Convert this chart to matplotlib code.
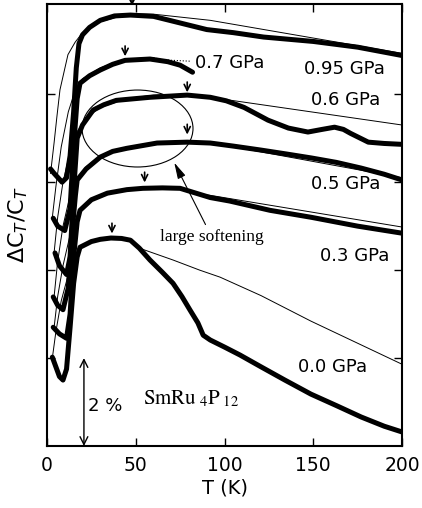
import matplotlib
matplotlib.use('Agg')
import matplotlib.pyplot as plt
from matplotlib.patches import Ellipse

# measured curves (T in K, dC/C in %, offset per pressure)
T_095 = [2, 4, 8.5, 11, 13, 15, 16.5, 18, 20, 24, 30, 38, 47, 60, 75, 90, 105, 122, 150, 175, 200]
y_095 = [6.3, 6.2, 6.0, 6.1, 6.6, 7.6, 8.6, 9.15, 9.35, 9.52, 9.68, 9.78, 9.8, 9.77, 9.62, 9.47, 9.4, 9.3, 9.2, 9.07, 8.88]
T_07 = [3.5, 6, 10, 13, 15, 17, 18.6, 24, 30, 37, 44, 58, 68, 75, 82]
y_07 = [5.18, 5.0, 4.9, 5.4, 6.8, 7.9, 8.25, 8.42, 8.55, 8.68, 8.77, 8.8, 8.74, 8.66, 8.5]
T_06 = [4.5, 7, 11, 13, 15, 17, 20, 26, 32, 39, 58, 79, 92, 101, 111, 118, 124.5, 136, 147, 155, 162, 167, 171, 181, 190, 200]
y_06 = [4.39, 4.1, 3.9, 4.3, 5.8, 7.0, 7.3, 7.64, 7.76, 7.86, 7.93, 7.98, 7.93, 7.85, 7.7, 7.55, 7.41, 7.23, 7.14, 7.2, 7.25, 7.2, 7.11, 6.91, 6.88, 6.86]
T_05 = [3.5, 6, 9, 12, 14, 16, 17, 22, 30, 37, 45, 62, 79, 92, 105, 120.5, 135, 149, 163, 177, 190, 200]
y_05 = [3.39, 3.2, 3.1, 3.6, 4.8, 5.7, 6.05, 6.3, 6.57, 6.7, 6.77, 6.89, 6.91, 6.89, 6.82, 6.73, 6.64, 6.55, 6.45, 6.32, 6.18, 6.05]
T_03 = [3.5, 7, 11, 13, 15, 17, 18.6, 25, 34, 45, 54, 65, 75, 92, 103, 125.6, 149, 175, 200]
y_03 = [2.7, 2.55, 2.45, 3.0, 4.3, 5.1, 5.36, 5.6, 5.75, 5.83, 5.86, 5.87, 5.86, 5.65, 5.57, 5.36, 5.2, 5.0, 4.84]
T_00 = [3, 5, 7, 9, 11, 13, 15, 17, 18.6, 25, 30, 36, 42, 47, 52, 58, 65, 71, 76, 80.6, 85, 88, 92, 100, 108.7, 120.6, 134, 148.7, 163, 177, 190, 200]
y_00 = [2.02, 1.8, 1.58, 1.5, 1.75, 2.7, 3.7, 4.3, 4.52, 4.65, 4.7, 4.73, 4.72, 4.68, 4.5, 4.23, 3.95, 3.7, 3.4, 3.09, 2.8, 2.52, 2.41, 2.25, 2.07, 1.8, 1.5, 1.18, 0.92, 0.66, 0.45, 0.32]

# background fits (thin lines)
fT_095 = [2, 4, 5.6, 7.3, 11.8, 15.8, 20, 30, 47, 60, 92, 200]
fy_095 = [6.2, 6.9, 7.5, 8.1, 8.9, 9.18, 9.4, 9.65, 9.83, 9.82, 9.68, 8.93]
fT_07 = [3, 5, 8, 12, 16, 20, 30, 44, 60]
fy_07 = [5.2, 5.9, 6.8, 7.6, 8.1, 8.35, 8.6, 8.8, 8.83]
fT_07dot = [60, 66, 81]
fy_07dot = [8.83, 8.78, 8.75]
fT_06 = [4, 6, 9, 13, 17, 22, 30, 45, 60, 79, 92, 200]
fy_06 = [4.4, 5.2, 6.0, 6.7, 7.15, 7.45, 7.7, 7.9, 7.98, 8.0, 7.93, 7.3]
fT_05 = [4, 6, 9, 13, 17, 22, 30, 45, 62, 79, 92, 200]
fy_05 = [3.4, 4.2, 5.0, 5.7, 6.1, 6.35, 6.6, 6.8, 6.9, 6.93, 6.9, 6.1]
fT_03 = [4, 6, 9, 13, 17, 22, 30, 45, 55, 75, 82, 92, 200]
fy_03 = [2.7, 3.4, 4.1, 4.8, 5.25, 5.5, 5.7, 5.85, 5.88, 5.84, 5.74, 5.7, 4.98]
fT_00 = [3, 5, 8, 12, 16, 20, 28, 36, 47, 52, 71, 86, 97.5, 120.6, 148.7, 200]
fy_00 = [2.0, 2.6, 3.3, 3.9, 4.35, 4.55, 4.7, 4.75, 4.7, 4.5, 4.23, 4.0, 3.84, 3.42, 2.84, 1.86]

labels = ['0.95 GPa', '0.7 GPa', '0.6 GPa', '0.5 GPa', '0.3 GPa', '0.0 GPa']
label_T = [144.8, 83.4, 148.7, 148.7, 153.8, 141.4]
label_y = [8.57, 8.7, 7.86, 5.95, 4.32, 1.8]
peak_T = [47.9, 44, 79, 79, 55, 36.6]
peak_y = [9.95, 8.8, 7.98, 7.02, 5.93, 4.77]

fig, ax = plt.subplots(figsize=(4.22, 5.08), dpi=100)
fig.subplots_adjust(left=0.1114, right=0.9526, bottom=0.122, top=0.992)

for T, y in [(T_095, y_095), (T_07, y_07), (T_06, y_06), (T_05, y_05), (T_03, y_03), (T_00, y_00)]:
    ax.plot(T, y, color='black', lw=3.6, solid_capstyle='round', solid_joinstyle='round')

for T, y in [(fT_095, fy_095), (fT_07, fy_07), (fT_06, fy_06), (fT_05, fy_05), (fT_03, fy_03), (fT_00, fy_00)]:
    ax.plot(T, y, color='black', lw=0.7)
ax.plot(fT_07dot, fy_07dot, color='black', lw=0.8, ls=':')

# peak arrows
for t, y in zip(peak_T, peak_y):
    ax.annotate('', xy=(t, y), xytext=(t, y + 0.36), annotation_clip=False,
                arrowprops=dict(arrowstyle='->', lw=1.2, color='black', mutation_scale=11))

for lab, t, y in zip(labels, label_T, label_y):
    ax.text(t, y, lab, fontsize=13, ha='left', va='center')

ax.add_patch(Ellipse((51, 7.22), 62.5, 1.75, fill=False, lw=0.8, color='black'))
ax.annotate('', xy=(71, 6.5), xytext=(90, 4.98),
            arrowprops=dict(arrowstyle='-|>,head_width=0.18,head_length=0.7', lw=0.8, color='black',
                            mutation_scale=14))
ax.text(63.5, 4.75, 'large softening', fontsize=12.5, family='Liberation Serif', ha='left', va='center')

# scale bar
ax.annotate('', xy=(20.8, 0), xytext=(20.8, 2.0),
            arrowprops=dict(arrowstyle='<->', lw=1.0, color='black', mutation_scale=14,
                            shrinkA=0, shrinkB=0))
ax.text(23.1, 0.91, '2 %', fontsize=13, ha='left', va='center')
ax.text(54, 0.95, r'$\mathrm{SmRu}_{\ 4}\mathrm{P}_{\ 12}$', fontsize=15, math_fontfamily='stix',
        ha='left', va='baseline')

ax.set_xlim(0, 200)
ax.set_ylim(0, 10.05)
ax.set_xticks([0, 50, 100, 150, 200])
ax.set_yticks([2, 4, 6, 8])
ax.set_yticklabels([])
ax.tick_params(direction='in', length=6, width=1, top=True, right=True, labelsize=13.5, pad=7)
for s in ax.spines.values():
    s.set_linewidth(1.5)
ax.set_xlabel('T (K)', fontsize=14, labelpad=3)
ax.set_ylabel(r'$\Delta$C$_T$/C$_T$', fontsize=16, labelpad=5)

plt.savefig('out.png', dpi=100)
